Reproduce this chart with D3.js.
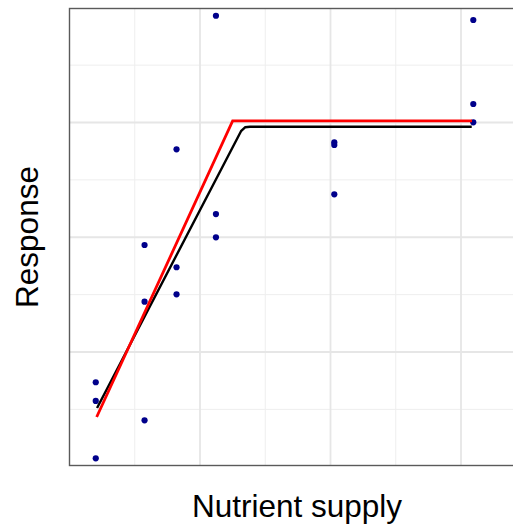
<!DOCTYPE html>
<html>
<head>
<meta charset="utf-8">
<script src="https://cdn.jsdelivr.net/npm/d3@7"></script>
<style>
body { margin: 0; background: #fff; }
text { font-family: "Liberation Sans", Arial, sans-serif; }
</style>
</head>
<body>
<svg id="chart" width="513" height="525"></svg>
<script>
// observed points (arbitrary units, no tick labels on the chart)
var supply = [20.5, 20.5, 20.5, 57.9, 57.9, 57.9, 82.4, 82.4, 82.4,
              112.6, 112.6, 112.6, 203.3, 203.3, 203.3, 309.8, 309.8, 309.8];
var response = [7.32, 5.69, 0.69, 4.0, 19.28, 14.34, 27.62, 17.34, 14.98,
                39.26, 21.98, 19.95, 28.23, 28.0, 23.7, 38.89, 31.57, 29.97];

// fitted linear-plateau curves
var redX = [21.2, 125.4, 308.8];
var redY = [4.29, 30.09, 30.09];
var blackX = [21.5, 131.8, 134.9, 138.7, 308.6];
var blackY = [5.08, 29.2, 29.54, 29.59, 29.59];

var xMajor = [100, 200, 300], xMinor = [50, 150, 250];
var yMajor = [10, 20, 30], yMinor = [5, 15, 25, 35];

var svg = d3.select("#chart");
var pLeft = 69.5, pRight = 526, pTop = 8.5, pBottom = 465.5;

var x = d3.scaleLinear().domain([0, 350]).range([69, 69 + 350 * 1.305]);
var y = d3.scaleLinear().domain([0, 40]).range([466.25, 7.25]);

var panel = svg.append("g");

// grid lines via axes
function grid(axis, cls, col, w){
    var g = panel.append("g").attr("class", cls).call(axis);
    g.select(".domain").remove();
    g.selectAll("line").attr("stroke", col).attr("stroke-width", w);
    g.selectAll("text").remove();
    return g;
}
grid(d3.axisBottom(x).tickValues(xMinor).tickSize(-(pBottom - pTop)).tickFormat(""), "xminor", "#eeeeee", 1)
    .attr("transform", "translate(0," + pBottom + ")");
grid(d3.axisLeft(y).tickValues(yMinor).tickSize(-(pRight - pLeft)).tickFormat(""), "yminor", "#eeeeee", 1)
    .attr("transform", "translate(" + pLeft + ",0)");
grid(d3.axisBottom(x).tickValues(xMajor).tickSize(-(pBottom - pTop)).tickFormat(""), "xmajor", "#e6e6e6", 1.8)
    .attr("transform", "translate(0," + pBottom + ")");
grid(d3.axisLeft(y).tickValues(yMajor).tickSize(-(pRight - pLeft)).tickFormat(""), "ymajor", "#e6e6e6", 1.8)
    .attr("transform", "translate(" + pLeft + ",0)");

// panel border
panel.append("rect")
    .attr("x", pLeft).attr("y", pTop)
    .attr("width", pRight - pLeft).attr("height", pBottom - pTop)
    .attr("fill", "none").attr("stroke", "#5a5a5a").attr("stroke-width", 1.4);

// points
panel.selectAll("circle.pt").data(supply).enter().append("circle")
    .attr("class", "pt")
    .attr("cx", function(d){ return x(d); })
    .attr("cy", function(d, i){ return y(response[i]); })
    .attr("r", 3.1)
    .attr("fill", "#00008b");

var line = d3.line().x(function(d){ return x(d[0]); }).y(function(d){ return y(d[1]); });

panel.append("path")
    .attr("d", line(blackX.map(function(v, i){ return [v, blackY[i]]; })))
    .attr("fill", "none").attr("stroke", "#000").attr("stroke-width", 2.4)
    .attr("stroke-linejoin", "round");

panel.append("path")
    .attr("d", line(redX.map(function(v, i){ return [v, redY[i]]; })))
    .attr("fill", "none").attr("stroke", "#ff0000").attr("stroke-width", 2.8);

// axis titles
svg.append("text")
    .attr("x", 297).attr("y", 517)
    .attr("text-anchor", "middle")
    .style("font-size", "31.5px")
    .text("Nutrient supply");

svg.append("text")
    .attr("transform", "translate(38," + ((pTop + pBottom) / 2) + ") rotate(-90)")
    .attr("text-anchor", "middle")
    .style("font-size", "31.5px")
    .text("Response");
</script>
</body>
</html>
